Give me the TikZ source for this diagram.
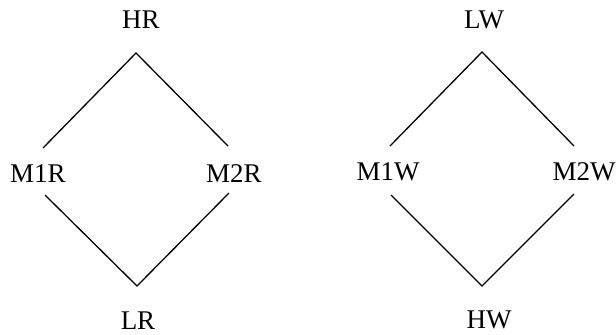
\documentclass[tikz,border=0pt]{standalone}
\usepackage{fontspec}
\setmainfont{Liberation Serif}
\begin{document}
\begin{tikzpicture}[x=0.5pt, y=-0.5pt, line width=0.65pt,
    lbl/.style={anchor=base, inner sep=0pt, font=\fontsize{13.5}{16}\selectfont}]
    \useasboundingbox (0, 0) rectangle (616, 334);
    % read lattice
    \node[lbl] (hr) at (141, 28) {HR};
    \node[lbl] (m1r) at (38, 182) {M1R};
    \node[lbl] (m2r) at (234, 182) {M2R};
    \node[lbl] (lr) at (138, 329) {LR};
    \coordinate (hrtip) at (136, 53);
    \coordinate (m1rup) at (43, 148);
    \coordinate (m2rup) at (228, 146);
    \coordinate (m1rdown) at (45, 195);
    \coordinate (m2rdown) at (229, 193);
    \coordinate (lrtip) at (137, 286);
    \draw (m1rup) -- (hrtip) -- (m2rup);
    \draw (m1rdown) -- (lrtip) -- (m2rdown);
    % write lattice
    \node[lbl] (lw) at (484, 28) {LW};
    \node[lbl] (m1w) at (388, 180) {M1W};
    \node[lbl] (m2w) at (584, 180) {M2W};
    \node[lbl] (hw) at (489, 328) {HW};
    \coordinate (lwtip) at (482, 52);
    \coordinate (m1wup) at (390, 146);
    \coordinate (m2wup) at (574, 146);
    \coordinate (m1wdown) at (391, 195);
    \coordinate (m2wdown) at (574, 194);
    \coordinate (hwtip) at (482, 286);
    \draw (m1wup) -- (lwtip) -- (m2wup);
    \draw (m1wdown) -- (hwtip) -- (m2wdown);
\end{tikzpicture}
\end{document}
